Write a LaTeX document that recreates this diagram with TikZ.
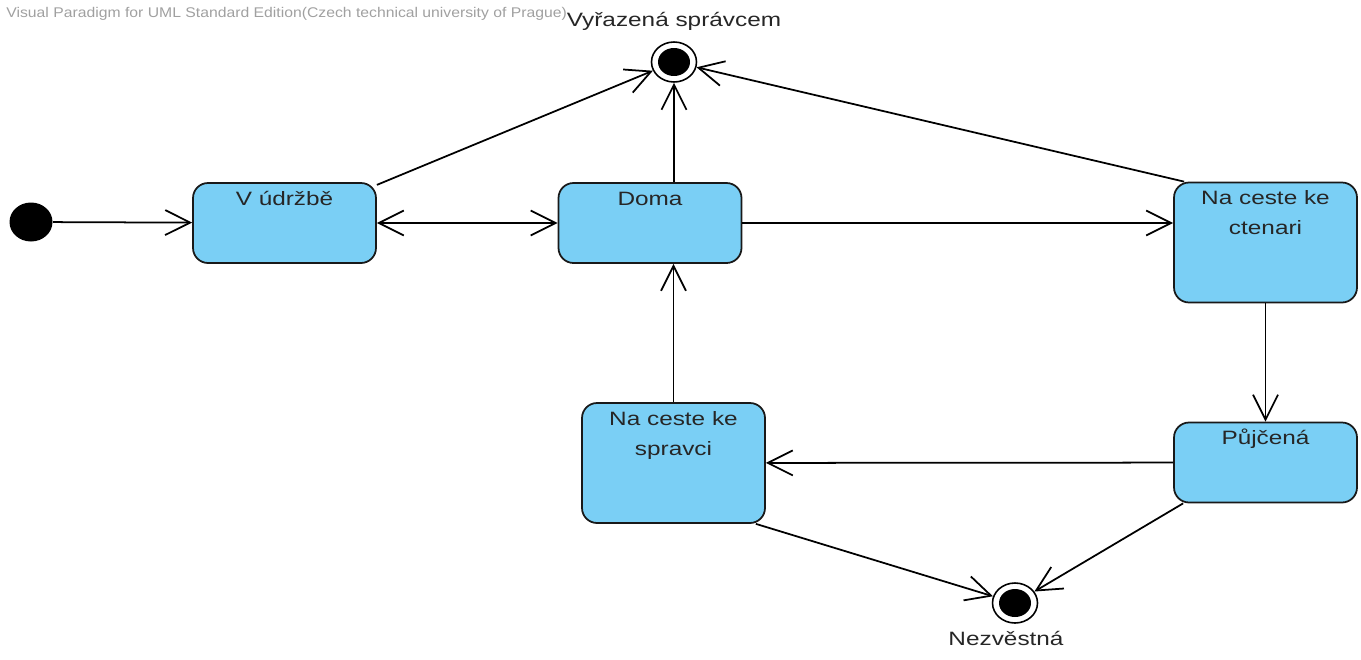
\documentclass[tikz,border=0pt]{standalone}
\usepackage{fontspec}
\setmainfont{Liberation Sans}[FakeStretch=1.26]
\newfontfamily\wmfont{Liberation Sans}[FakeStretch=1.12]
\usepackage{tikz}
\usepackage{xcolor}
\usetikzlibrary{arrows.meta,shapes.geometric}
\definecolor{statefill}{RGB}{122,207,245}
\definecolor{watermarkgray}{RGB}{160,160,160}

\begin{document}
\begin{tikzpicture}[x=0.02cm,y=-0.02cm,
  >={Straight Barb[length=0.5cm,width=0.5cm]},
  statenode/.style={rectangle, rounded corners=0.3cm, draw=black!90, fill=statefill, line width=1pt, minimum width=3.66cm, minimum height=1.6cm, inner sep=0pt},
  tallnode/.style={statenode, minimum height=2.4cm},
  statetext/.style={anchor=base, yshift=-0.46cm, align=center, font=\fontsize{11}{17}\selectfont, text=black!85},
  twolinetext/.style={statetext, yshift=-17pt},
  initnode/.style={ellipse, fill=black, minimum width=0.86cm, minimum height=0.78cm, inner sep=0pt},
  finalnode/.style={ellipse, draw=black, fill=white, line width=0.9pt, minimum width=0.9cm, minimum height=0.8cm, inner sep=0pt,
    path picture={\fill[black] (path picture bounding box.center) ellipse (0.32cm and 0.28cm);}},
  finallabel/.style={anchor=base, font=\fontsize{11}{13}\selectfont, text=black!85}]
            \useasboundingbox (0,0) rectangle (1361,659);
            \node[anchor=base west, inner sep=0pt, text=watermarkgray, font=\wmfont\fontsize{8}{9}\selectfont] (watermark) at (6,17) {Visual Paradigm for UML Standard Edition(Czech technical university of Prague)};

            \node[initnode] (init) at (31,222) {};
            \node[statenode, label={[statetext]north:V údržbě}] (udrzbe) at (284.5,223) {};
            \node[statenode, label={[statetext]north:Doma}] (doma) at (650,223) {};
            \node[tallnode, label={[twolinetext]north:{Na ceste ke\\ctenari}}] (ctenari) at (1265.5,242.5) {};
            \node[tallnode, label={[twolinetext]north:{Na ceste ke\\spravci}}] (spravci) at (673.5,463) {};
            \node[statenode, label={[statetext]north:Půjčená}] (pujcena) at (1265.5,462.5) {};
            \node[finalnode, label={[finallabel, yshift=0.3cm]north:Vyřazená správcem}] (vyrazena) at (674,62) {};
            \node[finalnode, label={[finallabel, yshift=-0.44cm, xshift=-0.18cm]south:Nezvěstná}] (nezvestna) at (1015,603) {};

            \tikzset{trans/.style={draw, ->, line width=1pt}}

            \path (init) edge[trans] (udrzbe);
            \path (udrzbe) edge[trans, <->] (doma);
            \path (udrzbe) edge[trans] (vyrazena);
            \path (doma.north -| vyrazena) edge[trans] (vyrazena);
            \path ([xshift=0.22cm]ctenari.north west) edge[trans] (vyrazena);
            \path (doma.east) edge[trans] (doma.east -| ctenari.west);
            \path (ctenari) edge[trans] (pujcena);
            \path (pujcena) edge[trans] (spravci);
            \path (spravci.north) edge[trans] (spravci.north |- doma.south);
            \path ([xshift=-0.2cm]spravci.south east) edge[trans] (nezvestna);
            \path ([xshift=0.2cm]pujcena.south west) edge[trans] (nezvestna);

        \end{tikzpicture}
\end{document}
